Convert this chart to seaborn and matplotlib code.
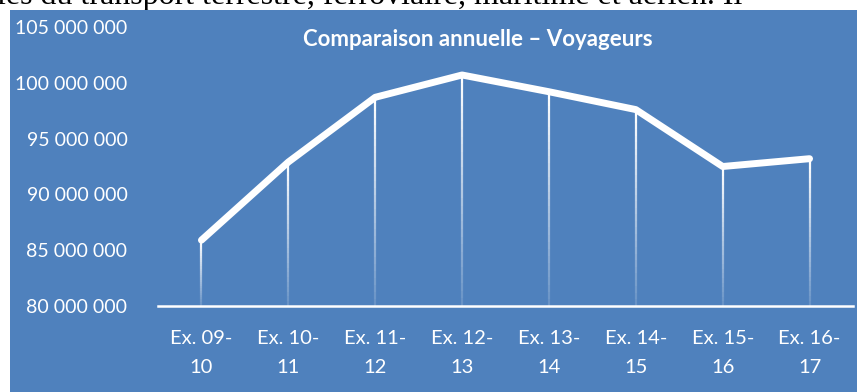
import numpy as np
import pandas as pd
import seaborn as sns
import matplotlib.pyplot as plt
from matplotlib.patches import Rectangle
from matplotlib.ticker import FuncFormatter

# Exercices (start / end year) and passenger counts
START_YEARS = ['09', '10', '11', '12', '13', '14', '15', '16']
END_YEARS = ['10', '11', '12', '13', '14', '15', '16', '17']
VOYAGEURS = [85_900_000, 92_900_000, 98_700_000, 100_700_000,
             99_200_000, 97_600_000, 92_500_000, 93_200_000]

TITLE = 'Comparaison annuelle – Voyageurs'
TOP_TEXT = 'les du transport terrestre, ferroviaire, maritime et aérien. Il'

BLUE = '#4F81BD'
Y_MIN, Y_MAX, Y_STEP = 80_000_000, 105_000_000, 5_000_000

labels = [f'Ex. {a}-\n{b}' for a, b in zip(START_YEARS, END_YEARS)]
df = pd.DataFrame({'periode': labels, 'voyageurs': VOYAGEURS})

sns.set_theme(style='white')
plt.rcParams['font.family'] = ['Lato', 'DejaVu Sans']

W, H = 857, 392
fig = plt.figure(figsize=(W / 100, H / 100), dpi=100, facecolor='white')

# blue chart area below the cut-off document line
fig.patches.append(Rectangle((10 / W, 0), 1, 1 - 10 / H, transform=fig.transFigure,
                             facecolor=BLUE, edgecolor='none', zorder=-5))
fig.text(742 / W, 1 - 4 / H, TOP_TEXT, ha='right', va='baseline', fontsize=23,
         family=['Liberation Serif'], color='black', zorder=-10)

ax = fig.add_axes([158 / W, 1 - 306 / H, (853 - 158) / W, (306 - 27) / H])
ax.set_facecolor('none')
ax.set_zorder(1)

# drop lines from each point to the axis, fading toward the bottom
n_seg = 30
xs = np.arange(len(VOYAGEURS))
for x, v in zip(xs, VOYAGEURS):
    edges = np.linspace(Y_MIN, v, n_seg + 1)
    alphas = np.linspace(0.15, 1.0, n_seg)
    cols = [(1, 1, 1, a) for a in alphas]
    ax.vlines([x] * n_seg, edges[:-1], edges[1:], colors=cols, linewidth=1.6, zorder=2)

sns.lineplot(data=df, x='periode', y='voyageurs', ax=ax, color='white', linewidth=5,
             sort=False, solid_capstyle='round', solid_joinstyle='round', zorder=3)

ax.set_xlim(-0.5, len(VOYAGEURS) - 0.5)
ax.set_ylim(Y_MIN, Y_MAX)
ax.set_yticks(np.arange(Y_MIN, Y_MAX + 1, Y_STEP))
ax.yaxis.set_major_formatter(FuncFormatter(lambda v, p: f'{int(v):,}'.replace(',', ' ')))
ax.set_xticks(xs)
ax.set_xticklabels(labels, linespacing=1.9)
ax.tick_params(axis='y', length=0, pad=22, labelsize=14, labelcolor='white')
ax.tick_params(axis='x', length=0, pad=17, labelsize=14.5, labelcolor='white')
ax.set_xlabel('')
ax.set_ylabel('')

for side in ['top', 'right', 'left']:
    ax.spines[side].set_visible(False)
ax.spines['bottom'].set_color('white')
ax.spines['bottom'].set_linewidth(1.8)
ax.spines['bottom'].set_zorder(4)

fig.text(478 / W, 1 - 40 / H, TITLE, ha='center', va='center', fontsize=16,
         fontweight='bold', color='white', zorder=5)

fig.savefig('out.png', dpi=100, facecolor=fig.get_facecolor())
